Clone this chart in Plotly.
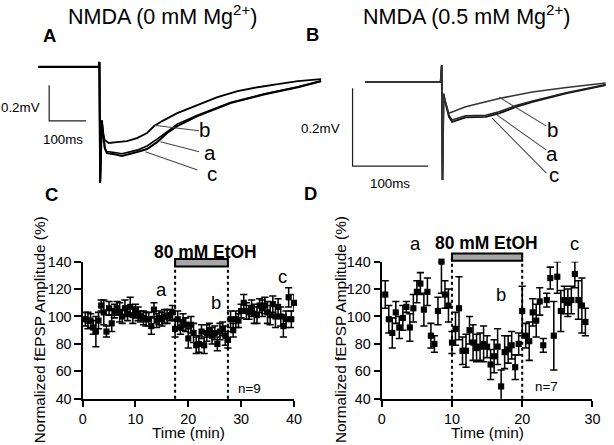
import plotly.graph_objects as go

W, H = 614, 445
# The captured picture shows the page with an 8px surround, scaled to 614x445;
# positions below are given in picture pixels and converted to page pixels.
PAD = 8
SX, SY = W / (W + 2 * PAD), H / (H + 2 * PAD)
FS = 1 / SX
FONT = "Liberation Sans, Arial, sans-serif"

# ---------------- Panel A traces (time in ms, voltage in mV) ----------------
A_T_B = [-166, -3, -1, 1, 3, 5.5, 13.6, 24.5, 46.3, 73.6, 100.8, 128.1, 147.2, 169, 209.8,
         264.3, 318.8, 373.3, 427.8, 482.3, 536.8, 599.5]
A_V_B = [0, 0, 0.028, -0.65, -0.45, -0.36, -0.411, -0.427, -0.422, -0.416, -0.399, -0.371,
         -0.332, -0.304, -0.259, -0.215, -0.170, -0.136, -0.114, -0.097, -0.080, -0.069]
A_T_AC = [-166, -3, -1, 1, 3, 5.5, 13.6, 19.1, 40, 60, 100.8, 128.1, 155.3, 182.5, 209.8,
          264.3, 354.3, 446.9, 536.8, 599.5]
A_V_A = [0, 0, 0.028, -0.65, -0.5, -0.30, -0.456, -0.475, -0.48, -0.487, -0.467, -0.444,
         -0.405, -0.361, -0.321, -0.271, -0.200, -0.151, -0.112, -0.078]
A_V_C = [0, 0, 0.028, -0.65, -0.5, -0.30, -0.456, -0.484, -0.49, -0.500, -0.478, -0.461,
         -0.422, -0.371, -0.332, -0.276, -0.203, -0.153, -0.114, -0.080]

# ---------------- Panel B traces (time in ms, voltage in mV) ----------------
B_T_B = [-102, -2, -0.5, 0.5, 2, 3.6, 8.9, 16.9, 31.2, 75.6, 119.6, 164.9, 217]
B_V_B = [0, 0, 0.044, -0.251, -0.03, -0.046, -0.080, -0.074, -0.063, -0.042, -0.025, -0.0136, -0.002]
B_T_AC = [-102, -2, -0.5, 0.5, 2, 3.6, 8.9, 13.3, 31.2, 57.9, 75.6, 97.9, 120, 164.5, 217]
B_V_A = [0, 0, 0.044, -0.251, -0.03, -0.046, -0.085, -0.097, -0.086, -0.085, -0.076, -0.060,
         -0.048, -0.027, -0.006]
B_V_C = [0, 0, 0.044, -0.251, -0.03, -0.046, -0.088, -0.102, -0.0905, -0.089, -0.0803, -0.0633,
         -0.0505, -0.029, -0.0077]

SCALE_MV = 0.2
SCALE_MS = 100

# ---------------- Panel C data ----------------
C_TIME = [i * 0.5 for i in range(1, 81)]
C_VAL = [98, 97, 97, 92, 89, 97, 108, 103, 89, 106, 95, 104, 106, 103, 100, 106, 102, 107, 101, 104,
         102, 100, 99, 98, 98, 93, 105, 97, 99, 98, 100, 100, 101, 103, 91, 98, 92, 96, 94, 84,
         94, 88, 79, 80, 89, 79, 88, 90, 86, 88, 80, 89, 91, 86, 83, 98, 90, 98, 97, 104,
         110, 104, 103, 106, 102, 101, 108, 106, 108, 103, 101, 109, 100, 107, 100, 93, 98, 114, 98, 110]
C_ERR = [5, 6, 5, 5, 11, 6, 4, 9, 4, 5, 6, 5, 5, 7, 5, 6, 5, 7, 6, 5,
         5, 4, 5, 5, 5, 6, 5, 5, 5, 5, 5, 5, 4, 5, 6, 6, 5, 6, 5, 7,
         6, 7, 6, 6, 5, 6, 6, 5, 6, 5, 5, 6, 5, 7, 6, 6, 5, 6, 5, 5,
         6, 6, 5, 6, 7, 6, 5, 6, 6, 8, 7, 6, 8, 6, 7, 8, 6, 7, 6, 6]

# ---------------- Panel D data ----------------
D_TIME = [i * 0.5 for i in range(1, 59)]
D_VAL = [116, 98, 88, 103, 92, 99, 107, 92, 106, 118, 124, 105, 118, 86, 80, 104, 140, 116, 108, 81,
         91, 106, 75, 75, 90, 81, 77, 78, 80, 78, 65, 71, 78, 49, 74, 76, 79, 63, 80, 104,
         86, 82, 103, 97, 111, 79, 112, 128, 86, 129, 104, 112, 110, 112, 131, 112, 108, 96]
D_ERR = [10, 10, 11, 8, 8, 9, 4, 10, 10, 8, 8, 12, 10, 9, 6, 10, 23, 10, 12, 8,
         12, 23, 10, 12, 10, 13, 10, 10, 13, 8, 11, 12, 13, 12, 12, 10, 10, 9, 8, 18,
         9, 14, 10, 12, 10, 5, 5, 8, 25, 12, 15, 10, 10, 10, 10, 14, 20, 10]

C_ETOH = [17.5, 27.5]
D_ETOH = [10, 20]
Y_RANGE = [40, 140]
C_XRANGE = [0, 40]
D_XRANGE = [0, 30]

# ---------------- geometry: picture pixels -> paper fractions ----------------
def fxp(x):
    return (x / SX - PAD) / W

def fyp(y):
    return 1 - (y / SY - PAD) / H

def dom_x(p0, p1):
    return [max(0.0, fxp(p0)), min(1.0, fxp(p1))]

def dom_y(top, bottom):
    return [max(0.0, fyp(bottom)), min(1.0, fyp(top))]

A_DX, A_DY = dom_x(40, 335), dom_y(55, 190)
A_XR, A_YR = [-171.7, 632.2], [-0.6908, 0.0655]
B_DX, B_DY = dom_x(300, 606), dom_y(55, 190)
B_XR, B_YR = [-191.1, 217.0], [-0.2769, 0.0692]
C_DX, C_DY = dom_x(86, 296), dom_y(261.7, 399)
D_DX, D_DY = dom_x(383.3, 592.7), dom_y(261.7, 399)


def to_paper(geo, x, y):
    dx, xr, dy, yr = geo
    fx = dx[0] + (x - xr[0]) / (xr[1] - xr[0]) * (dx[1] - dx[0])
    fy = dy[0] + (y - yr[0]) / (yr[1] - yr[0]) * (dy[1] - dy[0])
    return fx, fy


fig = go.Figure()

def line(x, y, xa, ya, width=1.8, color="black"):
    fig.add_trace(go.Scatter(x=x, y=y, mode="lines", xaxis=xa, yaxis=ya,
                             line=dict(color=color, width=width * FS), showlegend=False,
                             hoverinfo="skip"))

# Panel A traces
line(A_T_AC, A_V_C, "x", "y", 2)
line(A_T_AC, A_V_A, "x", "y", 1.6)
line(A_T_B, A_V_B, "x", "y", 1.8)
sa_t0, sa_v0 = -137.1, -0.1025
line([sa_t0, sa_t0, sa_t0 + SCALE_MS], [sa_v0, sa_v0 - SCALE_MV, sa_v0 - SCALE_MV], "x", "y", 1.2, "#222")
line([146.3, 269], [-0.3277, -0.3585], "x", "y", 1, "#444")
line([164.4, 269], [-0.4201, -0.4754], "x", "y", 1, "#444")
line([123.7, 264.5], [-0.4762, -0.5787], "x", "y", 1, "#444")

# Panel B traces
line(B_T_AC, B_V_C, "x2", "y2", 1.8, "#111")
line(B_T_AC, B_V_A, "x2", "y2", 1.5, "#222")
line(B_T_B, B_V_B, "x2", "y2", 1.5, "#333")
sb_t0, sb_v0 = -118.7, -0.0154
line([sb_t0, sb_t0, sb_t0 + SCALE_MS], [sb_v0, sb_v0 - SCALE_MV, sb_v0 - SCALE_MV], "x2", "y2", 1.2, "#222")
line([75.6, 138.3], [-0.0385, -0.1128], "x2", "y2", 1, "#444")
line([73.0, 138.3], [-0.0846, -0.1744], "x2", "y2", 1, "#444")
line([66.3, 138.3], [-0.0923, -0.2333], "x2", "y2", 1, "#444")

def errplot(t, v, e, xa, ya):
    up = [min(ei, Y_RANGE[1] - vi) for vi, ei in zip(v, e)]
    fig.add_trace(go.Scatter(
        x=t, y=v, mode="markers", xaxis=xa, yaxis=ya, cliponaxis=False,
        marker=dict(symbol="square", size=6 * FS, color="black"),
        error_y=dict(type="data", array=up, arrayminus=e, visible=True,
                     color="black", thickness=1.5 * FS, width=3.5 * FS),
        showlegend=False, hoverinfo="skip"))

errplot(C_TIME, C_VAL, C_ERR, "x3", "y3")
errplot(D_TIME, D_VAL, D_ERR, "x4", "y4")

hidden = dict(visible=False, showgrid=False, zeroline=False)
axis_style = dict(showline=True, linecolor="black", linewidth=2 * FS, ticks="outside",
                  ticklen=6 * FS, tickwidth=2 * FS, tickcolor="black", showgrid=False,
                  zeroline=False, tickfont=dict(family=FONT, size=14 * FS, color="black"))

fig.update_layout(
    width=W, height=H, margin=dict(l=0, r=0, t=0, b=0),
    paper_bgcolor="white", plot_bgcolor="rgba(0,0,0,0)",
    font=dict(family=FONT, color="black"),
    xaxis=dict(domain=A_DX, range=A_XR, anchor="y", **hidden),
    yaxis=dict(domain=A_DY, range=A_YR, anchor="x", **hidden),
    xaxis2=dict(domain=B_DX, range=B_XR, anchor="y2", **hidden),
    yaxis2=dict(domain=B_DY, range=B_YR, anchor="x2", **hidden),
    xaxis3=dict(domain=C_DX, range=C_XRANGE, anchor="y3", tickvals=[0, 10, 20, 30, 40], **axis_style),
    yaxis3=dict(domain=C_DY, range=Y_RANGE, anchor="x3", tickvals=[40, 60, 80, 100, 120, 140], **axis_style),
    xaxis4=dict(domain=D_DX, range=D_XRANGE, anchor="y4", tickvals=[0, 10, 20, 30], **axis_style),
    yaxis4=dict(domain=D_DY, range=Y_RANGE, anchor="x4", tickvals=[40, 60, 80, 100, 120, 140], **axis_style),
)

shapes = []
annotations = []

def ann_px(text, px, py, size, bold=False, angle=0):
    annotations.append(dict(text=f"<b>{text}</b>" if bold else text, x=fxp(px), y=fyp(py),
                            xref="paper", yref="paper", showarrow=False, xanchor="center",
                            yanchor="middle", textangle=angle,
                            font=dict(family=FONT, size=size * FS, color="black")))

def ann_data(text, geo, x, y, size, bold=False):
    fx, fy = to_paper(geo, x, y)
    annotations.append(dict(text=f"<b>{text}</b>" if bold else text, x=fx, y=fy,
                            xref="paper", yref="paper", showarrow=False, xanchor="center",
                            yanchor="middle", font=dict(family=FONT, size=size * FS, color="black")))

GEO_A = (A_DX, A_XR, A_DY, A_YR)
GEO_B = (B_DX, B_XR, B_DY, B_YR)
GEO_C = (C_DX, C_XRANGE, C_DY, Y_RANGE)
GEO_D = (D_DX, D_XRANGE, D_DY, Y_RANGE)

ann_px("NMDA (0 mM Mg<sup>2+</sup>)", 165, 15, 21)
ann_px("NMDA (0.5 mM Mg<sup>2+</sup>)", 468, 15, 21)
ann_px("A", 53, 35, 18, bold=True)
ann_px("B", 314, 34, 18, bold=True)
ann_px("C", 55, 194, 18, bold=True)
ann_px("D", 312, 193, 18, bold=True)

ann_px("0.2mV", 24, 107, 13)
ann_px("100ms", 66, 139, 13)
ann_px("0.2mV", 322, 128, 13)
ann_px("100ms", 391, 183, 13)

ann_data("b", GEO_A, 283.4, -0.349, 20)
ann_data("a", GEO_A, 299.8, -0.478, 20)
ann_data("c", GEO_A, 305.2, -0.596, 20)
ann_data("b", GEO_B, 146.3, -0.1205, 20)
ann_data("a", GEO_B, 146.3, -0.182, 20)
ann_data("c", GEO_B, 148.9, -0.238, 20)

for cx in (43, 343):
    ann_px("Normalized fEPSP Amplitude (%)", cx, 330, 15, angle=-90)
ann_px("Time (min)", 191, 433, 15)
ann_px("Time (min)", 488, 433, 15)

ann_data("a", GEO_C, 14.86, 119.9, 18)
ann_data("b", GEO_C, 25.3, 110.1, 18)
ann_data("c", GEO_C, 37.8, 129.1, 18)
ann_data("n=9", GEO_C, 31.6, 47.8, 13)
ann_data("80 mM EtOH", GEO_C, 23.3, 147.3, 17, bold=True)
ann_data("a", GEO_D, 4.87, 152.9, 18)
ann_data("c", GEO_D, 27.5, 152.9, 18)
ann_data("b", GEO_D, 16.97, 115.7, 18)
ann_data("n=7", GEO_D, 23.5, 49, 13)
ann_data("80 mM EtOH", GEO_D, 14.96, 153.4, 17, bold=True)

def etoh(geo, span, ybot, ytop):
    x0, y0 = to_paper(geo, span[0], ybot)
    x1, y1 = to_paper(geo, span[1], ytop)
    _, yax = to_paper(geo, span[0], Y_RANGE[0])
    shapes.append(dict(type="rect", xref="paper", yref="paper", x0=x0, x1=x1, y0=y0, y1=y1,
                       fillcolor="#a6a6a6", line=dict(color="black", width=2 * FS)))
    for xx in (x0, x1):
        shapes.append(dict(type="line", xref="paper", yref="paper", x0=xx, x1=xx, y0=yax, y1=y0,
                           line=dict(color="black", width=2 * FS, dash="dot")))

etoh(GEO_C, C_ETOH, 136.4, 141.9)
etoh(GEO_D, D_ETOH, 140.7, 146)

fig.update_layout(shapes=shapes, annotations=annotations)
fig.write_html("out.html", config={"displayModeBar": False},
               post_script="document.body.style.margin='0';")
